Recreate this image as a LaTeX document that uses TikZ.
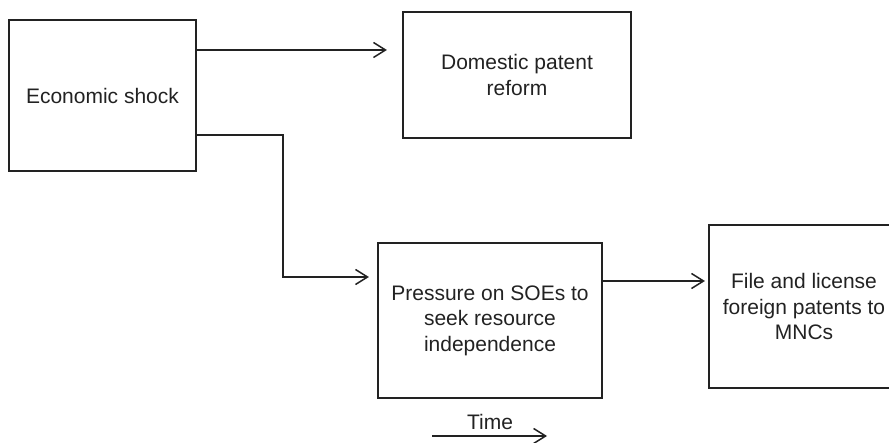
\documentclass[tikz,border=0pt]{standalone}
\usepackage{fontspec}
\setmainfont{Liberation Sans}
\usetikzlibrary{arrows.meta}
\definecolor{ink}{HTML}{222222}
\begin{document}
\begin{tikzpicture}[x=1pt,y=-1pt,
  box/.style={draw=ink, line width=2.2pt, rectangle, inner sep=0pt,
    align=center, text=ink, font=\fontsize{21}{25.5}\selectfont},
  arr/.style={draw=ink, line width=1.5pt,
    -{Straight Barb[length=12pt,width=15pt,line width=1.5pt]}},
  lbl/.style={text=ink, font=\fontsize{21}{25.5}\selectfont, inner sep=0pt}]
  \useasboundingbox (0,0) rectangle (889,443);

  % boxes
  \node[box, minimum width=187pt, minimum height=151pt] (econ) at (102.5,95.5)
    {Economic shock};
  \node[box, minimum width=228pt, minimum height=126pt] (dom) at (517,75)
    {Domestic patent\\reform};
  \node[box, minimum width=224pt, minimum height=155pt] (soe) at (490,320.5)
    {Pressure on SOEs to\\seek resource\\independence};
  % this box runs past the right edge of the page
  \node[box, minimum width=190pt, minimum height=163pt] (mnc) at (804,306.5)
    {File and license\\foreign patents to\\MNCs};

  % connectors
  \draw[arr, shorten >=15pt] (econ.east |- 0,50) -- (dom.west |- 0,50);
  \draw[arr, shorten >=8pt] (econ.east |- 0,135) -- (283,135) |- (soe.west |- 0,277);
  \draw[arr, shorten >=3pt] (soe.east |- 0,281) -- (mnc.west |- 0,281);

  % time axis
  \node[lbl, anchor=base] (time) at (490,430) {Time};
  \coordinate (t0) at (432,436);
  \coordinate (t1) at (547,436);
  \draw[arr] (t0) -- (t1);
\end{tikzpicture}
\end{document}
